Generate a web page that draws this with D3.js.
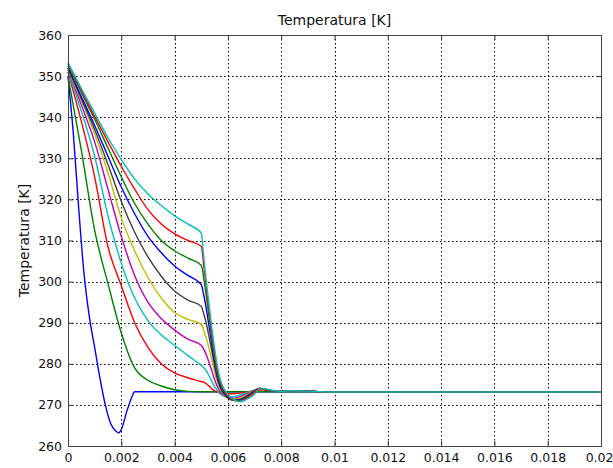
<!DOCTYPE html>
<html>
<head>
<meta charset="utf-8">
<script src="https://cdn.jsdelivr.net/npm/d3@7"></script>
<style>
  body { margin: 0; background: #fff; }
  svg text { font-family: "DejaVu Sans", Verdana, sans-serif; fill: #111; }
</style>
</head>
<body>
<svg id="chart" width="613" height="468"></svg>
<script>
// tick values and labels
var xTicks = [0, 0.002, 0.004, 0.006, 0.008, 0.01, 0.012, 0.014, 0.016, 0.018, 0.02];
var xTickLabels = ["0", "0.002", "0.004", "0.006", "0.008", "0.01", "0.012", "0.014", "0.016", "0.018", "0.02"];
var yTicks = [260, 270, 280, 290, 300, 310, 320, 330, 340, 350, 360];

// first (fastest) curve has its own time points
var tBlue1 =    [0,   0.0002, 0.0004, 0.0006, 0.0008, 0.001, 0.0012, 0.0014, 0.0016, 0.0018, 0.0019, 0.002, 0.0022, 0.0024, 0.0025, 0.02];
var tempBlue1 = [350, 336,    318,    302,    291.5,  284,   276.5,  270,    265.5,  263.6,  263.2,  264,   268.3,  272,    273.2,  273.2];

// shared time points for the other curves
var tGrid = [0, 0.0005, 0.001, 0.0015, 0.002, 0.0025, 0.003, 0.0035, 0.004, 0.0045, 0.005,
             0.0051, 0.0052, 0.0053, 0.0054, 0.0055, 0.0056, 0.0057, 0.0058, 0.006, 0.0062, 0.0064,
             0.0066, 0.0068, 0.007, 0.0072, 0.0074, 0.0077, 0.008, 0.0085, 0.009, 0.0095, 0.01, 0.02];

var tempGreen2 = [350, 332, 312.5, 299.5, 287.5, 279, 276, 274.6, 273.7, 273.3, 273.2,
                  273.2, 273.2, 273.2, 273.2, 273.2, 273.2, 273.2, 273.2, 273.2, 273.2, 273.2,
                  273.2, 273.2, 273.2, 273.2, 273.2, 273.2, 273.2, 273.2, 273.2, 273.2, 273.2, 273.2];
var tempRed3 = [351, 339, 325.5, 308.5, 299, 290, 284, 280, 277.8, 276.6, 275.7,
                275.5, 275.1, 274.5, 273.9, 273.4, 273.1, 272.9, 272.8, 272.7, 272.7, 272.8,
                273, 273.2, 273.4, 273.6, 273.7, 273.4, 273.3, 273.45, 273.35, 273.2, 273.15, 273.15];
var tempCyan4 = [351, 341.5, 330.5, 316, 304.5, 296, 290.5, 287, 284.5, 282, 279.6,
                 279, 278.2, 277, 275.7, 274.5, 273.5, 272.8, 272.3, 271.9, 272, 272.3,
                 272.7, 273.2, 273.6, 273.9, 273.7, 273.4, 273.3, 273.45, 273.35, 273.2, 273.15, 273.15];
var tempMagenta5 = [351.5, 343, 334, 322.5, 311, 301.5, 295, 291, 288.2, 286, 284.5,
                    283.5, 282, 280.2, 278.2, 276.2, 274.5, 273.3, 272.5, 271.8, 271.6, 271.9,
                    272.4, 273, 273.6, 274, 273.7, 273.4, 273.3, 273.45, 273.35, 273.2, 273.15, 273.15];
var tempYellow6 = [351.5, 344, 336, 326.5, 315.5, 307.5, 301, 296, 292.5, 290.8, 289.6,
                   288, 286, 283.5, 280.8, 278, 275.6, 273.9, 272.8, 271.7, 271.4, 271.6,
                   272.1, 272.8, 273.5, 274, 273.7, 273.4, 273.3, 273.45, 273.35, 273.2, 273.15, 273.15];
var tempGray7 = [352, 344.5, 337, 328.5, 319.5, 312, 306, 301.3, 297.7, 295.5, 294,
                 292, 289.5, 286.3, 283, 279.5, 276.5, 274.4, 273.1, 271.7, 271.2, 271.3,
                 271.8, 272.6, 273.4, 274, 273.7, 273.4, 273.3, 273.45, 273.35, 273.2, 273.15, 273.15];
var tempBlue8 = [352, 345, 338, 330.5, 323, 316.5, 311, 307, 303.8, 301.5, 299.3,
                 296.5, 293, 288.8, 284.5, 280.5, 277, 274.8, 273.4, 271.8, 271.1, 271.1,
                 271.6, 272.4, 273.3, 274, 273.7, 273.4, 273.3, 273.45, 273.35, 273.2, 273.15, 273.15];
var tempGreen9 = [352.5, 346, 339.5, 332.5, 325.5, 319, 314, 310, 307.5, 305.7, 304,
                  300.5, 296, 291, 286, 281.5, 277.8, 275.3, 273.8, 272, 271.1, 271,
                  271.4, 272.2, 273.2, 274, 273.7, 273.4, 273.3, 273.45, 273.35, 273.2, 273.15, 273.15];
var tempRed10 = [353, 346.5, 340.2, 334, 328, 322.5, 317.5, 314, 311.6, 310, 308.6,
                 303.5, 298, 292.5, 287.2, 282.5, 278.6, 275.9, 274.2, 272.2, 271.2, 270.9,
                 271.2, 272, 273, 274, 273.8, 273.4, 273.3, 273.45, 273.35, 273.2, 273.15, 273.15];
var tempCyan11 = [353.3, 347, 341, 335, 329.7, 325, 321.3, 318.5, 316, 314, 311.8,
                  305.5, 299.5, 294, 288.5, 283.8, 279.6, 276.5, 274.6, 272.6, 271.4, 270.8,
                  271, 271.7, 272.6, 273.9, 273.9, 273.5, 273.3, 273.45, 273.35, 273.2, 273.15, 273.15];

var lineColors = ["#0000ff", "#008000", "#ff0000", "#00bfbf", "#bf00bf", "#bfbf00", "#404040",
                  "#0000ff", "#008000", "#ff0000", "#00bfbf"];

var series = [
    {t: tBlue1, v: tempBlue1},
    {t: tGrid, v: tempGreen2},
    {t: tGrid, v: tempRed3},
    {t: tGrid, v: tempCyan4},
    {t: tGrid, v: tempMagenta5},
    {t: tGrid, v: tempYellow6},
    {t: tGrid, v: tempGray7},
    {t: tGrid, v: tempBlue8},
    {t: tGrid, v: tempGreen9},
    {t: tGrid, v: tempRed10},
    {t: tGrid, v: tempCyan11}
];

var svg = d3.select("#chart");
var margin = {top: 35, right: 12, bottom: 22, left: 68},
    width = +svg.attr("width") - margin.left - margin.right,
    height = +svg.attr("height") - margin.top - margin.bottom,
    g = svg.append("g").attr("transform", "translate(" + margin.left + "," + margin.top + ")");

var x = d3.scaleLinear().domain([0, 0.02]).range([0, width]);
var y = d3.scaleLinear().domain([260, 360]).range([height, 0]);

// dotted grid
g.append("g").selectAll("line.gx")
    .data(xTicks.slice(1, -1))
    .enter().append("line")
    .attr("x1", function(d) { return Math.round(x(d)) + 0.5; })
    .attr("x2", function(d) { return Math.round(x(d)) + 0.5; })
    .attr("y1", 0).attr("y2", height)
    .attr("stroke", "#000").attr("stroke-width", 1)
    .attr("stroke-dasharray", "1.5,2.5");

g.append("g").selectAll("line.gy")
    .data(yTicks.slice(1, -1))
    .enter().append("line")
    .attr("y1", function(d) { return Math.round(y(d)) + 0.5; })
    .attr("y2", function(d) { return Math.round(y(d)) + 0.5; })
    .attr("x1", 0).attr("x2", width)
    .attr("stroke", "#000").attr("stroke-width", 1)
    .attr("stroke-dasharray", "1.5,2.5");

// curves
var line = d3.line()
    .x(function(d) { return x(d[0]); })
    .y(function(d) { return y(d[1]); })
    .curve(d3.curveMonotoneX);

g.append("g").selectAll("path")
    .data(series)
    .enter().append("path")
    .attr("fill", "none")
    .attr("stroke", function(d, i) { return lineColors[i]; })
    .attr("stroke-width", 1.4)
    .attr("stroke-linejoin", "round")
    .attr("d", function(d) { return line(d.t.map(function(t, i) { return [t, d.v[i]]; })); });

// axes, ticks pointing inward
var xAxis = g.append("g")
    .attr("transform", "translate(0," + height + ")")
    .call(d3.axisBottom(x).tickValues(xTicks).tickSize(-5).tickSizeOuter(0).tickPadding(7)
        .tickFormat(function(d, i) { return xTickLabels[i]; }));
var yAxis = g.append("g")
    .call(d3.axisLeft(y).tickValues(yTicks).tickSize(-5).tickSizeOuter(0).tickPadding(6));
var xTop = g.append("g")
    .call(d3.axisTop(x).tickValues(xTicks).tickSize(-5).tickSizeOuter(0).tickFormat(""));
var yRight = g.append("g")
    .attr("transform", "translate(" + width + ",0)")
    .call(d3.axisRight(y).tickValues(yTicks).tickSize(-5).tickSizeOuter(0).tickFormat(""));

[xAxis, yAxis, xTop, yRight].forEach(function(a) {
    a.select(".domain").remove();
    a.selectAll("line").attr("stroke", "#333");
    a.selectAll("text").style("font-size", "12.5px").attr("fill", "#111");
});
// keep the last x label inside the window
xAxis.selectAll(".tick text").filter(function(d) { return d === 0.02; })
    .attr("text-anchor", "end").attr("dx", "12");

g.append("rect")
    .attr("x", 0.5).attr("y", 0.5)
    .attr("width", width).attr("height", height)
    .attr("fill", "none").attr("stroke", "#444").attr("stroke-width", 1);

// titles
svg.append("text")
    .attr("x", margin.left + width / 2)
    .attr("y", 25)
    .attr("text-anchor", "middle")
    .style("font-size", "14px")
    .text("Temperatura [K]");

svg.append("text")
    .attr("transform", "translate(29," + (margin.top + height / 2) + ") rotate(-90)")
    .attr("text-anchor", "middle")
    .style("font-size", "14px")
    .text("Temperatura [K]");
</script>
</body>
</html>
